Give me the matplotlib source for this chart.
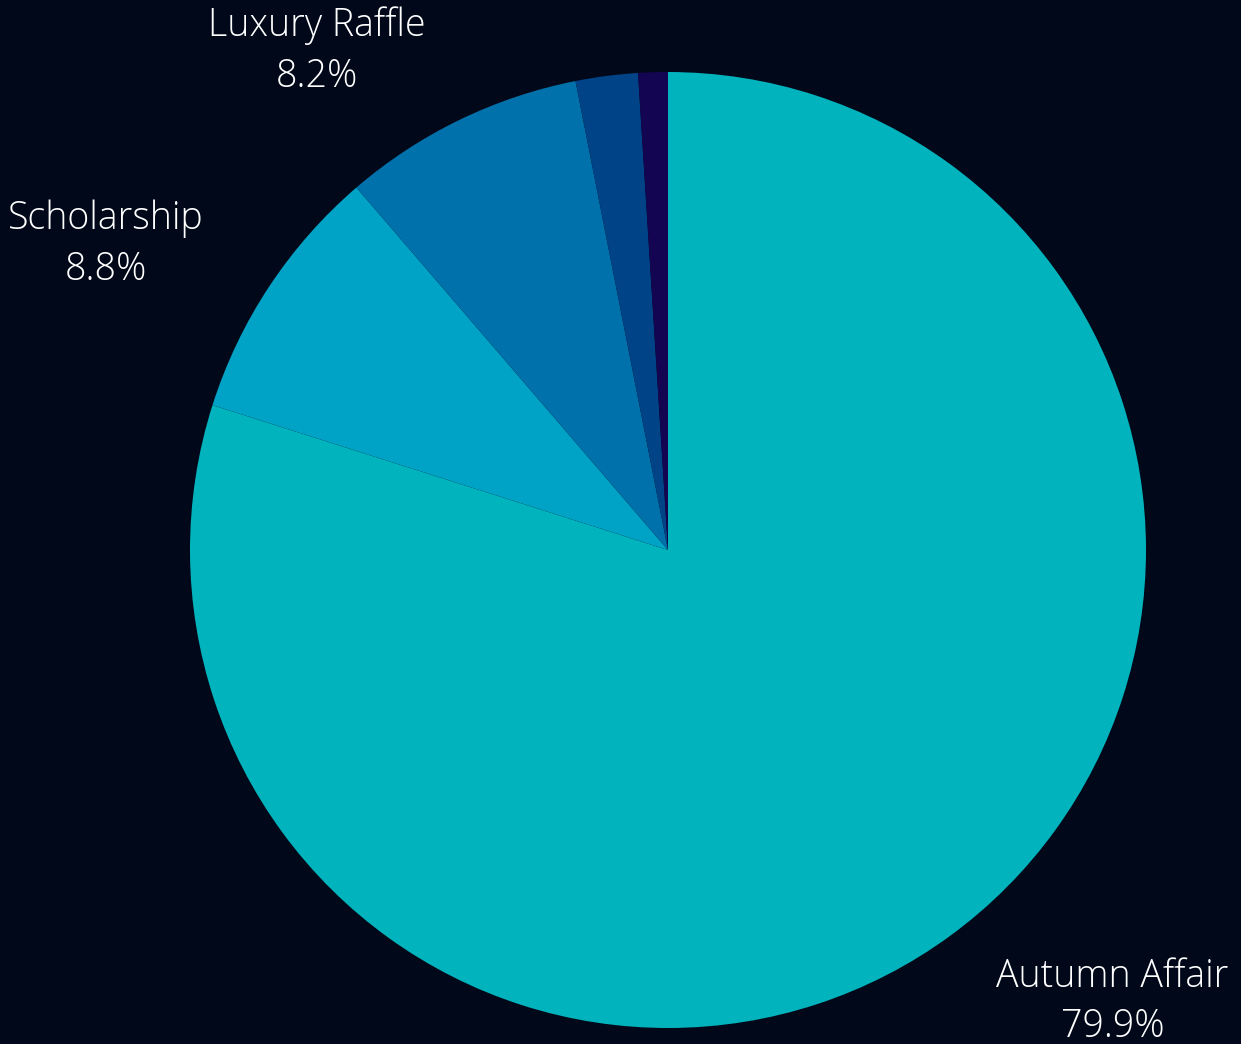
import matplotlib

matplotlib.use("Agg")
import matplotlib.pyplot as plt

# slices, clockwise from 12 o'clock
labels = ["Autumn Affair", "Scholarship", "Luxury Raffle", "Other A", "Other B"]
values = [79.9, 8.8, 8.2, 2.1, 1.0]
show_label = [True, True, True, False, False]
colors = ["#00b3bc", "#00a2c5", "#0071aa", "#004487", "#130552"]
# label anchor points in pie-radius units
label_pos = [(0.93, -0.945), (-1.176, 0.64), (-0.734, 1.044), None, None]

BG = "#000819"
W, H = 1241, 1044
cx, cy, r = 668, 550, 478

fig = plt.figure(figsize=(W / 100, H / 100), dpi=100, facecolor=BG)
ax = fig.add_axes([0, 0, 1, 1])
ax.set_facecolor(BG)

ax.pie(
    values,
    colors=colors,
    startangle=90,
    counterclock=False,
    radius=1.0,
    wedgeprops={"linewidth": 0},
)
ax.set_xlim(-cx / r, (W - cx) / r)
ax.set_ylim(-(H - cy) / r, cy / r)
ax.set_aspect("auto")
ax.axis("off")

for lab, val, show, pos in zip(labels, values, show_label, label_pos):
    if not show:
        continue
    ax.text(
        pos[0], pos[1], f"{lab}\n{val:.1f}%",
        ha="center", va="center", color="white",
        fontsize=27, family="Open Sans", fontweight="light",
        linespacing=1.42,
    )

fig.savefig("out.png", dpi=100, facecolor=BG)
